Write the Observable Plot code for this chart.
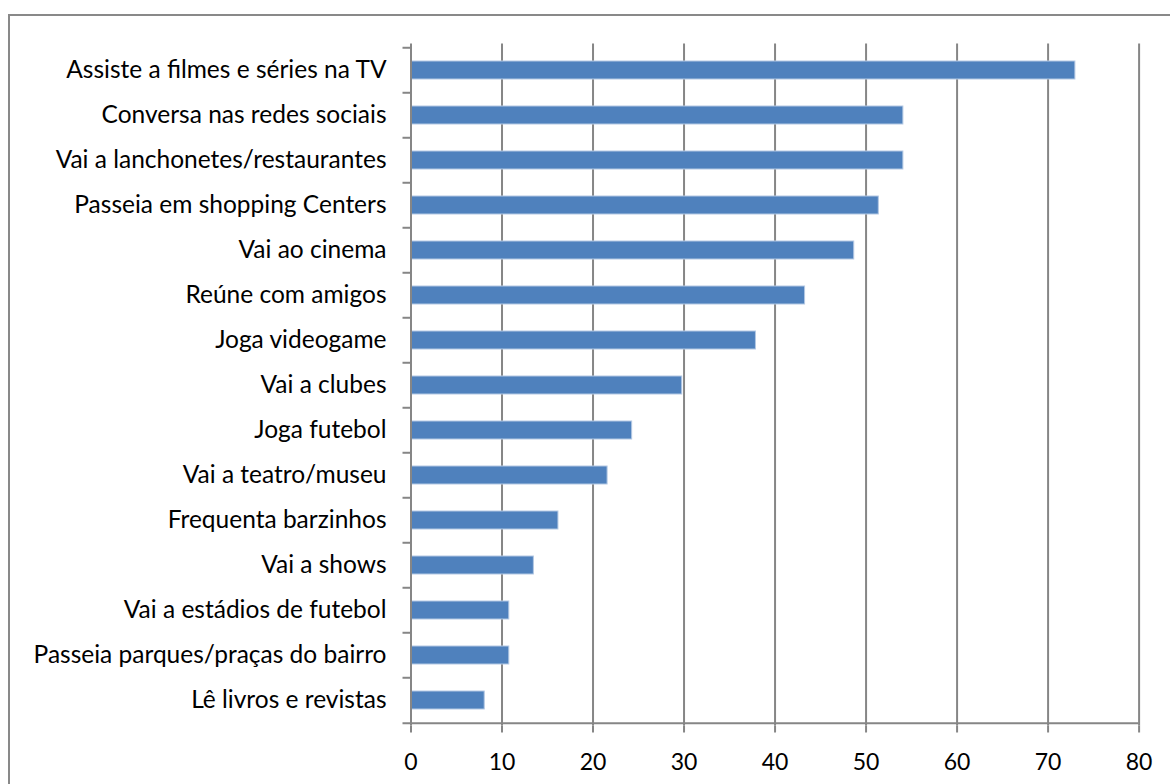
<!DOCTYPE html>
<html>
<head>
<meta charset="utf-8">
<script src="https://cdn.jsdelivr.net/npm/d3@7"></script>
<script src="https://cdn.jsdelivr.net/npm/@observablehq/plot@0.6"></script>
<style>
  html, body { margin: 0; padding: 0; background: #fff; }
  #wrap { position: relative; width: 1170px; height: 784px; overflow: hidden; }
  #border { position: absolute; left: 8px; top: 14px; width: 1200px; height: 800px; border-left: 2px solid #898989; border-top: 2px solid #898989; box-sizing: border-box; }
  #chart { position: absolute; left: 0; top: 0; line-height: 0; }
</style>
</head>
<body>
<div id="wrap"><div id="border"></div><div id="chart"></div></div>
<script>
const categories = [
  "Assiste a filmes e séries na TV",
  "Conversa nas redes sociais",
  "Vai a lanchonetes/restaurantes",
  "Passeia em shopping Centers",
  "Vai ao cinema",
  "Reúne com amigos",
  "Joga videogame",
  "Vai a clubes",
  "Joga futebol",
  "Vai a teatro/museu",
  "Frequenta barzinhos",
  "Vai a shows",
  "Vai a estádios de futebol",
  "Passeia parques/praças do bairro",
  "Lê livros e revistas"
];
const values = [73.0, 54.1, 54.1, 51.4, 48.7, 43.3, 37.9, 29.8, 24.3, 21.6, 16.2, 13.5, 10.8, 10.8, 8.1];
const xTicks = [0, 10, 20, 30, 40, 50, 60, 70, 80];

const data = categories.map((c, i) => ({category: c, value: values[i]}));

const W = 1170, H = 784;
const mTop = 43.5, mBottom = 58.5, mLeft = 410.5, mRight = 31.4;
const step = (H - mTop - mBottom) / categories.length;
const tickLen = 8 / ((W - mLeft - mRight) / 80); // 8px in data units
const gray = "#868686";
const FS = 24.5;

const chart = Plot.plot({
  width: W,
  height: H,
  marginTop: mTop,
  marginBottom: mBottom,
  marginLeft: mLeft,
  marginRight: mRight,
  style: {fontFamily: "Lato, 'Open Sans', sans-serif", fontSize: FS + "px", color: "#000", background: "transparent"},
  x: {domain: [0, 80], ticks: xTicks},
  y: {domain: categories, paddingInner: 0.61, paddingOuter: 0.305},
  marks: [
    Plot.ruleX(xTicks.slice(1), {stroke: gray, strokeWidth: 2}),
    Plot.barX(data, {x: "value", y: "category", fill: "#4F81BD", stroke: "#b3c8e3", strokeWidth: 1}),
    Plot.ruleX([0], {stroke: gray, strokeWidth: 2}),
    Plot.ruleY(categories, {y: d => d, x1: -tickLen, x2: 0, dy: -step / 2, stroke: gray, strokeWidth: 2}),
    Plot.ruleY([categories[categories.length - 1]], {y: d => d, x1: -tickLen, x2: 80, dy: step / 2, stroke: gray, strokeWidth: 2}),
    Plot.axisY({tickSize: 0, tickPadding: 24.5, label: null, fill: "#000", fontSize: FS}),
    Plot.axisX({ticks: xTicks, tickSize: 7, tickPadding: 21, label: null, stroke: gray, strokeWidth: 2, strokeOpacity: 1, fill: "#000", fontSize: 23})
  ]
});
document.getElementById("chart").appendChild(chart);
</script>
</body>
</html>
